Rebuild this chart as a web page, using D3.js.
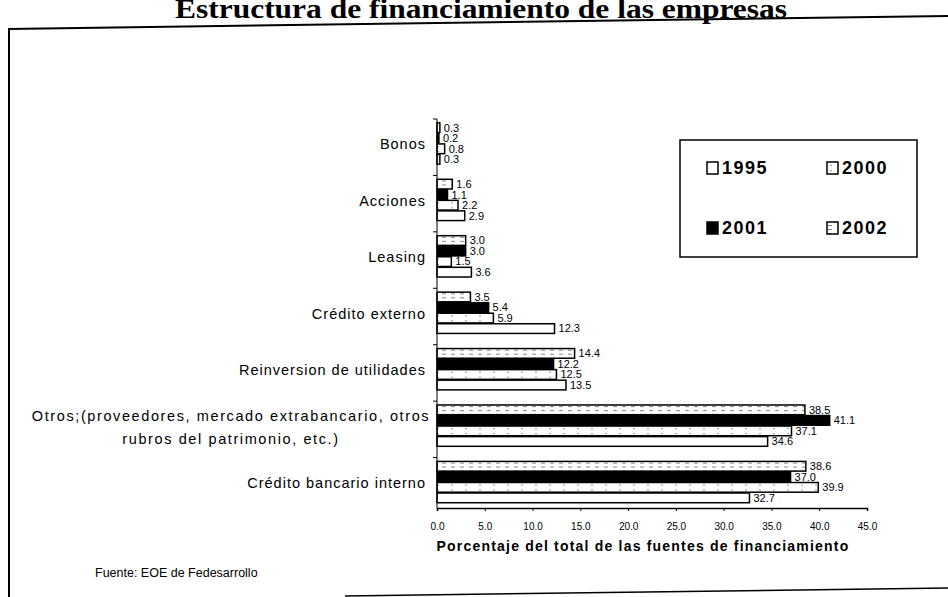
<!DOCTYPE html>
<html>
<head>
<meta charset="utf-8">
<script src="https://cdn.jsdelivr.net/npm/d3@7"></script>
<style>
  body { margin: 0; background: #fff; }
  svg { display: block; }
</style>
</head>
<body>
<script>
// categorias de arriba hacia abajo
const categories = [
  "Bonos",
  "Acciones",
  "Leasing",
  "Crédito externo",
  "Reinversion de utilidades",
  "Otros;(proveedores, mercado extrabancario, otros|rubros del patrimonio, etc.)",
  "Crédito bancario interno"
];

// orden de las barras dentro de cada grupo (de arriba hacia abajo)
const years = ["2002", "2001", "2000", "1995"];

const v2002 = [0.3, 1.6, 3.0, 3.5, 14.4, 38.5, 38.6];
const v2001 = [0.2, 1.1, 3.0, 5.4, 12.2, 41.1, 37.0];
const v2000 = [0.8, 2.2, 1.5, 5.9, 12.5, 37.1, 39.9];
const v1995 = [0.3, 2.9, 3.6, 12.3, 13.5, 34.6, 32.7];

const xTicks = [0, 5, 10, 15, 20, 25, 30, 35, 40, 45];
const legendOrder = ["1995", "2000", "2001", "2002"];

const series = { "2002": v2002, "2001": v2001, "2000": v2000, "1995": v1995 };

const width = 948, height = 597;
const sans = "Liberation Sans, Arial, sans-serif";

const svg = d3.select("body").append("svg")
  .attr("width", width)
  .attr("height", height);

// patrones de relleno
const defs = svg.append("defs");
const p02 = defs.append("pattern")
  .attr("id", "pat2002").attr("patternUnits", "userSpaceOnUse")
  .attr("width", 9).attr("height", 4);
p02.append("rect").attr("width", 9).attr("height", 4).attr("fill", "#fff");
p02.append("rect").attr("x", 1).attr("y", 1).attr("width", 4).attr("height", 1).attr("fill", "#888");
const p00 = defs.append("pattern")
  .attr("id", "pat2000").attr("patternUnits", "userSpaceOnUse")
  .attr("width", 14).attr("height", 5);
p00.append("rect").attr("width", 14).attr("height", 5).attr("fill", "#fff");
p00.append("rect").attr("x", 3).attr("y", 2).attr("width", 2).attr("height", 1).attr("fill", "#999");

const fills = { "2002": "url(#pat2002)", "2001": "#000", "2000": "url(#pat2000)", "1995": "#fff" };

// titulo (recortado arriba como en el original)
svg.append("text")
  .attr("x", 175).attr("y", 18)
  .attr("textLength", 612)
  .attr("lengthAdjust", "spacingAndGlyphs")
  .style("font-family", "Liberation Serif, Times New Roman, serif")
  .style("font-weight", "bold")
  .style("font-size", "28px")
  .text("Estructura de financiamiento de las empresas");

// marco
svg.append("line").attr("x1", 8).attr("y1", 29).attr("x2", 948).attr("y2", 16)
  .attr("stroke", "#000").attr("stroke-width", 2);
svg.append("line").attr("x1", 9).attr("y1", 28).attr("x2", 9).attr("y2", 597)
  .attr("stroke", "#000").attr("stroke-width", 2);
svg.append("line").attr("x1", 345).attr("y1", 596).attr("x2", 948).attr("y2", 588)
  .attr("stroke", "#000").attr("stroke-width", 1.5);

// escalas
const x = d3.scaleLinear().domain([0, 45]).range([437, 867]);
const y = d3.scaleBand().domain(categories).range([119, 514]);
const yInner = d3.scaleBand().domain(years).range([3, 46]).padding(0.08);
const axisY = 508;

// barras
const groups = svg.selectAll("g.cat")
  .data(categories)
  .join("g")
  .attr("class", "cat")
  .attr("transform", d => `translate(0,${y(d)})`);

groups.selectAll("rect")
  .data((d, i) => years.map(yr => ({ yr, v: series[yr][i] })))
  .join("rect")
  .attr("x", x(0))
  .attr("y", d => yInner(d.yr))
  .attr("width", d => x(d.v) - x(0))
  .attr("height", yInner.bandwidth())
  .attr("fill", d => fills[d.yr])
  .attr("stroke", "#000")
  .attr("stroke-width", 1.5);

groups.selectAll("text.val")
  .data((d, i) => years.map(yr => ({ yr, v: series[yr][i] })))
  .join("text")
  .attr("class", "val")
  .attr("x", d => x(d.v) + 4)
  .attr("y", d => yInner(d.yr) + yInner.bandwidth() / 2)
  .attr("dy", "0.35em")
  .style("font-family", sans)
  .style("font-size", "11px")
  .text(d => d.v.toFixed(1));

// eje y
svg.append("line").attr("x1", x(0)).attr("x2", x(0)).attr("y1", 119).attr("y2", axisY)
  .attr("stroke", "#000");
svg.selectAll("line.ytick")
  .data(categories)
  .join("line")
  .attr("class", "ytick")
  .attr("x1", x(0) - 4).attr("x2", x(0))
  .attr("y1", d => y(d)).attr("y2", d => y(d))
  .attr("stroke", "#000");

// etiquetas de categorias
svg.selectAll("text.cat")
  .data(categories)
  .join("text")
  .attr("class", "cat")
  .style("font-family", sans)
  .style("font-size", "14.5px")
  .style("letter-spacing", "1px")
  .each(function(d) {
    const lines = d.split("|");
    const t = d3.select(this);
    const cy = y(d) + y.bandwidth() / 2 - 3;
    if (lines.length === 1) {
      t.attr("x", 426).attr("y", cy).attr("dy", "0.35em")
        .attr("text-anchor", "end").text(d);
    } else {
      t.attr("text-anchor", "middle").style("letter-spacing", "1.6px");
      lines.forEach((ln, k) => {
        t.append("tspan").attr("x", 231)
          .attr("y", cy - 10 + k * 23).attr("dy", "0.35em").text(ln);
      });
    }
  });

// eje x
const xAxis = d3.axisBottom(x)
  .tickValues(xTicks)
  .tickFormat(d3.format(".1f"))
  .tickSize(3)
  .tickPadding(12);

const gx = svg.append("g")
  .attr("transform", `translate(0,${axisY})`)
  .call(xAxis);
gx.select(".domain").attr("stroke", "#000").attr("stroke-width", 1.5);
gx.selectAll("text")
  .style("font-family", sans)
  .style("font-size", "10px")
  .attr("fill", "#000");

svg.append("text")
  .attr("x", 643).attr("y", 551)
  .attr("text-anchor", "middle")
  .style("font-family", sans)
  .style("font-weight", "bold")
  .style("font-size", "14px")
  .style("letter-spacing", "1.2px")
  .text("Porcentaje del total de las fuentes de financiamiento");

// leyenda
const lg = svg.append("g");
lg.append("rect")
  .attr("x", 680).attr("y", 140).attr("width", 237).attr("height", 117)
  .attr("fill", "#fff").attr("stroke", "#000").attr("stroke-width", 1.5);

const legPos = {
  "1995": [707, 168], "2000": [827, 168],
  "2001": [707, 228], "2002": [827, 228]
};
const li = lg.selectAll("g.item")
  .data(legendOrder)
  .join("g")
  .attr("class", "item")
  .attr("transform", d => `translate(${legPos[d][0]},${legPos[d][1]})`);
li.append("rect")
  .attr("x", 0).attr("y", -6).attr("width", 11).attr("height", 12)
  .attr("fill", d => fills[d])
  .attr("stroke", "#000").attr("stroke-width", 1.5);
li.append("text")
  .attr("x", 15).attr("dy", "0.36em")
  .style("font-family", sans)
  .style("font-weight", "bold")
  .style("font-size", "18px")
  .style("letter-spacing", "1.5px")
  .text(d => d);

// fuente
svg.append("text")
  .attr("x", 95).attr("y", 577)
  .style("font-family", sans)
  .style("font-size", "12.5px")
  .text("Fuente: EOE de Fedesarrollo");
</script>
</body>
</html>
